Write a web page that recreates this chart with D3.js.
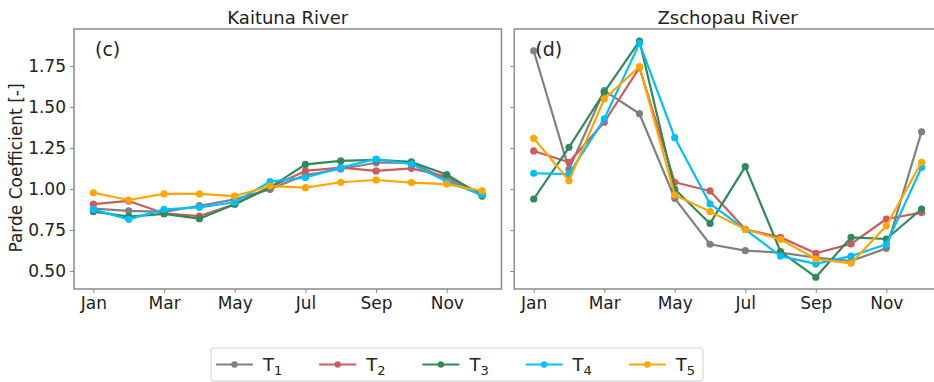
<!DOCTYPE html>
<html><head><meta charset="utf-8">
<script src="https://cdn.jsdelivr.net/npm/d3@7"></script>
<style>body{margin:0;background:#fff;}svg{display:block;font-family:"DejaVu Sans",sans-serif;}</style>
</head><body><svg id="c" width="934" height="382"></svg>
<script>
const months = ["Jan","Feb","Mar","Apr","May","Jun","Jul","Aug","Sep","Oct","Nov","Dec"];
const tickMonths = ["Jan","Mar","May","Jul","Sep","Nov"];
const yTicks = [0.50, 0.75, 1.00, 1.25, 1.50, 1.75];
const seriesNames = ["1","2","3","4","5"];
const colors = ["#808080","#cd5c5c","#2e8b57","#00bfff","#ffa500"];
const panelTitles = ["Kaituna River","Zschopau River"];
const panelTags = ["(c)","(d)"];

const kaitunaT1 = [0.88,0.866,0.86,0.898,0.937,0.998,1.085,1.122,1.16,1.16,1.06,0.96];
const kaitunaT2 = [0.908,0.927,0.852,0.835,0.907,1.01,1.11,1.13,1.11,1.126,1.075,0.97];
const kaitunaT3 = [0.862,0.831,0.848,0.819,0.907,1.01,1.15,1.171,1.177,1.165,1.088,0.957];
const kaitunaT4 = [0.876,0.815,0.876,0.888,0.919,1.045,1.07,1.13,1.183,1.152,1.045,0.965];
const kaitunaT5 = [0.977,0.933,0.970,0.970,0.957,1.018,1.008,1.041,1.055,1.039,1.03,0.988];

const zschopauT1 = [1.843,1.12,1.60,1.459,0.943,0.663,0.624,0.612,0.581,0.561,0.638,1.349];
const zschopauT2 = [1.232,1.163,1.407,1.74,1.041,0.988,0.754,0.705,0.608,0.665,0.817,0.856];
const zschopauT3 = [0.939,1.254,1.59,1.902,0.998,0.79,1.136,0.618,0.462,0.705,0.695,0.878];
const zschopauT4 = [1.096,1.091,1.427,1.888,1.313,0.909,0.754,0.591,0.543,0.591,0.663,1.132];
const zschopauT5 = [1.309,1.051,1.549,1.746,0.963,0.862,0.754,0.693,0.573,0.547,0.776,1.163];

const panels = [
  [kaitunaT1,kaitunaT2,kaitunaT3,kaitunaT4,kaitunaT5],
  [zschopauT1,zschopauT2,zschopauT3,zschopauT4,zschopauT5]
];

const svg = d3.select("#c");
const plotTop = 29, plotBottom = 289;
const panelX = [[74,501.5],[514.3,941]];
const y = d3.scaleLinear().domain([0.3902, 1.9756]).range([plotBottom, plotTop]);
const textColor = "#222";
const spineColor = "#8a8a8a";

panels.forEach((series, p) => {
  const x = d3.scalePoint().domain(months).range([panelX[p][0] + 19.4, panelX[p][1] - 19.4]);
  const g = svg.append("g");
  g.append("rect").attr("x", panelX[p][0]).attr("y", plotTop)
    .attr("width", panelX[p][1]-panelX[p][0]).attr("height", plotBottom-plotTop)
    .attr("fill","none").attr("stroke",spineColor).attr("stroke-width",1.5);
  const xa = g.append("g").attr("transform",`translate(0,${plotBottom})`)
    .call(d3.axisBottom(x).tickValues(tickMonths).tickSize(4).tickPadding(4));
  xa.select(".domain").remove();
  xa.selectAll("line").attr("stroke",spineColor);
  xa.selectAll("text").attr("font-size",17).attr("fill",textColor).attr("font-family","DejaVu Sans");
  const ya = g.append("g").attr("transform",`translate(${panelX[p][0]},0)`)
    .call(d3.axisLeft(y).tickValues(yTicks).tickSize(4).tickPadding(4).tickFormat(p===0 ? d3.format(".2f") : () => ""));
  ya.select(".domain").remove();
  ya.selectAll("line").attr("stroke",spineColor);
  ya.selectAll("text").attr("font-size",17).attr("fill",textColor).attr("font-family","DejaVu Sans");
  g.append("text").attr("x",(panelX[p][0]+panelX[p][1])/2).attr("y",24)
    .attr("text-anchor","middle").attr("font-size",18).attr("fill",textColor).text(panelTitles[p]);
  g.append("text").attr("x",panelX[p][0]+21).attr("y",56)
    .attr("font-size",19).attr("fill",textColor).text(panelTags[p]);
  const line = d3.line().x((d,i)=>x(months[i])).y(d=>y(d));
  series.forEach((vals, s) => {
    g.append("path").datum(vals).attr("d",line).attr("fill","none")
      .attr("stroke",colors[s]).attr("stroke-width",2.2).attr("stroke-linejoin","round");
    g.selectAll(null).data(vals).enter().append("circle")
      .attr("cx",(d,i)=>x(months[i])).attr("cy",d=>y(d)).attr("r",3.6).attr("fill",colors[s]);
  });
});

svg.append("text").attr("transform","translate(22,168) rotate(-90)")
  .attr("text-anchor","middle").attr("font-size",17).attr("fill",textColor).text("Parde Coefficient [-]");

const lg = svg.append("g");
lg.append("rect").attr("x",211).attr("y",348).attr("width",492).attr("height",33).attr("rx",3)
  .attr("fill","#fff").attr("stroke","#d0d0d0").attr("stroke-width",1);
seriesNames.forEach((n,i) => {
  const x0 = 216 + i*103.2, cy = 364.5;
  lg.append("line").attr("x1",x0).attr("x2",x0+37).attr("y1",cy).attr("y2",cy)
    .attr("stroke",colors[i]).attr("stroke-width",2.2);
  lg.append("circle").attr("cx",x0+18.5).attr("cy",cy).attr("r",3.2).attr("fill",colors[i]);
  const t = lg.append("text").attr("x",x0+47).attr("y",cy+6.5).attr("font-size",18).attr("fill",textColor);
  t.append("tspan").text("T");
  t.append("tspan").attr("dy",4).attr("font-size",13).text(n);
});
</script></body></html>
